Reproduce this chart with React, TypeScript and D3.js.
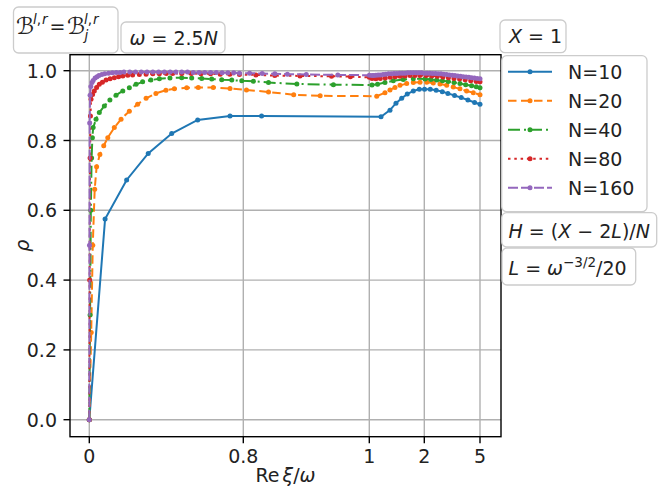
import React from 'react';
import * as d3 from 'd3';

// legend labels and axis ticks
const seriesNames = ['N=10', 'N=20', 'N=40', 'N=80', 'N=160'];
const xTickValues = [0, 0.8, 1, 2, 5];
const xTickLabels = ['0', '0.8', '1', '2', '5'];
const yTickValues = [0, 0.2, 0.4, 0.6, 0.8, 1.0];

// [Re xi / omega, rho]
const n10: [number, number][] = [
  [0, 0], [0.082, 0.575], [0.194, 0.687], [0.306, 0.763], [0.428, 0.82], [0.563, 0.859],
  [0.731, 0.87], [0.829, 0.87], [1.213, 0.868], [1.376, 0.887], [1.485, 0.907], [1.589, 0.921],
  [1.69, 0.933], [1.8, 0.942], [1.909, 0.947], [2.013, 0.947], [2.32, 0.947], [2.64, 0.944],
  [2.97, 0.94], [3.27, 0.935], [3.63, 0.929], [3.99, 0.923], [4.35, 0.916], [4.71, 0.909], [5, 0.904],
];

const n20: [number, number][] = [
  [0, 0], [0.01, 0.25], [0.018, 0.5], [0.028, 0.66], [0.038, 0.725], [0.055, 0.76], [0.075, 0.785],
  [0.096, 0.808], [0.13, 0.837], [0.165, 0.861], [0.208, 0.884], [0.251, 0.904], [0.295, 0.921],
  [0.346, 0.935], [0.398, 0.944], [0.442, 0.948], [0.506, 0.951], [0.566, 0.952], [0.644, 0.952],
  [0.731, 0.949], [0.805, 0.945], [0.84, 0.939], [0.88, 0.931], [0.922, 0.928], [1.135, 0.927],
  [1.285, 0.937], [1.376, 0.945], [1.467, 0.952], [1.558, 0.958], [1.68, 0.963], [1.8, 0.966],
  [1.922, 0.967], [2.13, 0.967], [2.485, 0.965], [2.845, 0.962], [3.206, 0.958], [3.562, 0.953],
  [3.92, 0.948], [4.28, 0.942], [4.64, 0.937], [5, 0.931],
];

const n40: [number, number][] = [
  [0, 0], [0.004, 0.3], [0.008, 0.6], [0.012, 0.75], [0.016, 0.808], [0.02, 0.837], [0.035, 0.861],
  [0.052, 0.88], [0.078, 0.899], [0.107, 0.916], [0.139, 0.93], [0.174, 0.942], [0.208, 0.951],
  [0.243, 0.961], [0.277, 0.968], [0.32, 0.973], [0.364, 0.977], [0.419, 0.979], [0.48, 0.98],
  [0.532, 0.979], [0.584, 0.978], [0.636, 0.976], [0.688, 0.974], [0.74, 0.973], [0.792, 0.971],
  [0.816, 0.97], [0.84, 0.966], [0.885, 0.962], [0.943, 0.96], [1.049, 0.959], [1.15, 0.961],
  [1.285, 0.966], [1.436, 0.971], [1.618, 0.975], [1.8, 0.977], [2.04, 0.976], [2.35, 0.975],
  [2.67, 0.973], [2.98, 0.971], [3.29, 0.969], [3.6, 0.966], [3.92, 0.963], [4.23, 0.96],
  [4.55, 0.957], [4.8, 0.954], [5, 0.951],
];

const n80: [number, number][] = [
  [0, 0], [0.002, 0.4], [0.004, 0.75], [0.006, 0.87], [0.009, 0.918], [0.017, 0.932], [0.026, 0.942],
  [0.038, 0.952], [0.052, 0.961], [0.068, 0.967], [0.087, 0.973], [0.108, 0.977], [0.13, 0.98],
  [0.152, 0.983], [0.174, 0.985], [0.2, 0.987], [0.225, 0.988], [0.26, 0.989], [0.295, 0.99],
  [0.33, 0.991], [0.364, 0.991], [0.4, 0.992], [0.433, 0.992], [0.48, 0.992], [0.53, 0.992],
  [0.58, 0.991], [0.63, 0.991], [0.68, 0.99], [0.73, 0.99], [0.78, 0.989], [0.82, 0.988],
  [0.85, 0.986], [0.89, 0.985], [0.94, 0.984], [0.97, 0.983], [1.0, 0.981], [1.05, 0.978],
  [1.12, 0.977], [1.2, 0.978], [1.29, 0.979], [1.38, 0.981], [1.47, 0.983], [1.56, 0.984],
  [1.65, 0.985], [1.74, 0.986], [1.83, 0.986], [1.92, 0.986], [2.1, 0.986], [2.4, 0.985],
  [2.7, 0.984], [3.0, 0.982], [3.3, 0.98], [3.6, 0.978], [3.9, 0.976], [4.2, 0.974], [4.5, 0.971],
  [4.8, 0.969], [5, 0.968],
];

const n160: [number, number][] = [
  [0, 0], [0.001, 0.5], [0.002, 0.85], [0.004, 0.93], [0.008, 0.955], [0.014, 0.966], [0.02, 0.972],
  [0.03, 0.979], [0.04, 0.983], [0.05, 0.986], [0.065, 0.989], [0.08, 0.991], [0.1, 0.993],
  [0.12, 0.994], [0.14, 0.995], [0.16, 0.995], [0.18, 0.996], [0.21, 0.996], [0.24, 0.996],
  [0.27, 0.996], [0.3, 0.996], [0.33, 0.996], [0.36, 0.996], [0.39, 0.996], [0.42, 0.996],
  [0.45, 0.996], [0.48, 0.996], [0.51, 0.996], [0.54, 0.995], [0.57, 0.995], [0.6, 0.995],
  [0.63, 0.995], [0.66, 0.995], [0.69, 0.994], [0.72, 0.994], [0.75, 0.994], [0.78, 0.993],
  [0.81, 0.993], [0.83, 0.992], [0.85, 0.991], [0.87, 0.99], [0.9, 0.989], [0.95, 0.988],
  [1.0, 0.987], [1.05, 0.986], [1.08, 0.986], [1.12, 0.987], [1.16, 0.988], [1.2, 0.988],
  [1.25, 0.989], [1.3, 0.99], [1.35, 0.991], [1.4, 0.991], [1.45, 0.992], [1.5, 0.992],
  [1.55, 0.993], [1.6, 0.993], [1.65, 0.993], [1.7, 0.994], [1.75, 0.994], [1.8, 0.994],
  [1.85, 0.994], [1.9, 0.994], [1.95, 0.994], [2.0, 0.993], [2.15, 0.993], [2.3, 0.993],
  [2.45, 0.992], [2.6, 0.992], [2.75, 0.991], [2.9, 0.991], [3.05, 0.99], [3.2, 0.989],
  [3.35, 0.988], [3.5, 0.987], [3.65, 0.986], [3.8, 0.985], [3.95, 0.984], [4.1, 0.983],
  [4.25, 0.982], [4.4, 0.981], [4.55, 0.98], [4.7, 0.979], [4.85, 0.978], [5, 0.977],
];

const seriesData = [n10, n20, n40, n80, n160];

const COLORS = ['#1f77b4', '#ff7f0e', '#2ca02c', '#d62728', '#9467bd'];
const DASHES = ['none', '8.5,4.5', '12,4,2,4', '2.5,3.8', '10,3'];
const FONT = "'DejaVu Sans', sans-serif";
const BOX_EDGE = '#cccccc';

const W = 670;
const H = 498;
const plot = { left: 70, right: 501, top: 54.7, bottom: 436.7 };

// the axis is piecewise: each tick gets its own position
const x = d3.scaleLinear().domain(xTickValues).range([89.3, 243.3, 369.3, 424.3, 480]);
const y = d3.scaleLinear().domain([0, 1]).range([419.7, 70.7]);

const line = d3.line<[number, number]>()
  .x(d => x(d[0]))
  .y(d => y(d[1]));

const Box = ({ x0, y0, w, h }: { x0: number; y0: number; w: number; h: number }) => (
  <rect x={x0} y={y0} width={w} height={h} rx={5} fill="white" stroke={BOX_EDGE} strokeWidth={1.3} />
);

export default function App() {
  return (
    <svg width={W} height={H} style={{ position: 'absolute', left: 0, top: 0, background: 'white' }}
      fontFamily={FONT}>
      {/* grid */}
      <g stroke="#b0b0b0" strokeWidth={1.4}>
        {xTickValues.map(v => (
          <line key={'gx' + v} x1={x(v)} x2={x(v)} y1={plot.top} y2={plot.bottom} />
        ))}
        {yTickValues.map(v => (
          <line key={'gy' + v} x1={plot.left} x2={plot.right} y1={y(v)} y2={y(v)} />
        ))}
      </g>

      {/* curves */}
      {seriesData.map((data, i) => (
        <g key={seriesNames[i]}>
          <path d={line(data) || ''} fill="none" stroke={COLORS[i]} strokeWidth={2}
            strokeDasharray={DASHES[i]} />
          {data.map((d, j) => (
            <circle key={j} cx={x(d[0])} cy={y(d[1])} r={2.5} fill={COLORS[i]} />
          ))}
        </g>
      ))}

      {/* spines */}
      <rect x={plot.left} y={plot.top} width={plot.right - plot.left} height={plot.bottom - plot.top}
        fill="none" stroke="black" strokeWidth={1.4} />

      {/* y ticks */}
      {yTickValues.map(v => (
        <g key={'ty' + v}>
          <line x1={plot.left - 6.5} x2={plot.left} y1={y(v)} y2={y(v)} stroke="black" strokeWidth={1.4} />
          <text x={plot.left - 13} y={y(v) + 7} textAnchor="end" fontSize={19} fill="#222">{v.toFixed(1)}</text>
        </g>
      ))}
      {/* x ticks */}
      {xTickValues.map((v, i) => (
        <g key={'tx' + v}>
          <line x1={x(v)} x2={x(v)} y1={plot.bottom} y2={plot.bottom + 6.5} stroke="black" strokeWidth={1.4} />
          <text x={x(v)} y={463} textAnchor="middle" fontSize={19} fill="#222">{xTickLabels[i]}</text>
        </g>
      ))}

      {/* axis labels */}
      <text x={(plot.left + plot.right) / 2} y={481.5} textAnchor="middle" fontSize={19} fill="#222">
        Re<tspan dx={3} fontStyle="italic">ξ</tspan>/<tspan fontStyle="italic">ω</tspan>
      </text>
      <text transform={`translate(29,${(plot.top + plot.bottom) / 2}) rotate(-90)`} textAnchor="middle"
        fontSize={19} fontStyle="italic" fill="#222">ρ</text>

      {/* annotation boxes, top left */}
      <Box x0={13.5} y0={7} w={104.5} h={46} />
      <g fill="#222" fontSize={19}>
        <text x={16} y={33.5} fontSize={23}>ℬ</text>
        <text x={33} y={24} fontSize={13.5}><tspan fontStyle="italic">l</tspan>,<tspan dx={1} fontStyle="italic">r</tspan></text>
        <text x={49.5} y={33}>=</text>
        <text x={67} y={33.5} fontSize={23}>ℬ</text>
        <text x={84} y={24} fontSize={13.5}><tspan fontStyle="italic">l</tspan>,<tspan dx={1} fontStyle="italic">r</tspan></text>
        <text x={84.5} y={39.5} fontSize={13.5} fontStyle="italic">j</text>
      </g>
      <Box x0={121} y0={22} w={104} h={31} />
      <text x={129.5} y={45} fontSize={19} fill="#222">
        <tspan fontStyle="italic">ω</tspan> = 2.5<tspan fontStyle="italic">N</tspan>
      </text>

      {/* annotation box, top right */}
      <Box x0={500} y0={20} w={66} h={32.7} />
      <text x={509} y={43} fontSize={19} fill="#222">
        <tspan fontStyle="italic">X</tspan> = 1
      </text>

      {/* legend */}
      <Box x0={501.7} y0={55.7} w={145.3} h={156} />
      {seriesNames.map((name, i) => {
        const ry = 71.7 + i * 29;
        return (
          <g key={'lg' + name}>
            <line x1={508} x2={552} y1={ry} y2={ry} stroke={COLORS[i]} strokeWidth={2}
              strokeDasharray={DASHES[i]} />
            <circle cx={530} cy={ry} r={2.5} fill={COLORS[i]} />
            <text x={568} y={ry + 7} fontSize={19} fill="#222">{name}</text>
          </g>
        );
      })}

      {/* parameter boxes */}
      <Box x0={501.7} y0={212.7} w={155} h={34.3} />
      <text x={508.5} y={238} fontSize={19} fill="#222">
        <tspan fontStyle="italic">H</tspan> = (<tspan fontStyle="italic">X</tspan> − 2<tspan fontStyle="italic">L</tspan>)/<tspan fontStyle="italic">N</tspan>
      </text>
      <Box x0={502} y0={248} w={133.7} h={37} />
      <text x={508.5} y={275} fontSize={19} fill="#222">
        <tspan fontStyle="italic">L</tspan> = <tspan fontStyle="italic">ω</tspan>
        <tspan dy={-8} fontSize={13.5}>−3/2</tspan><tspan dy={8}>/20</tspan>
      </text>
    </svg>
  );
}
